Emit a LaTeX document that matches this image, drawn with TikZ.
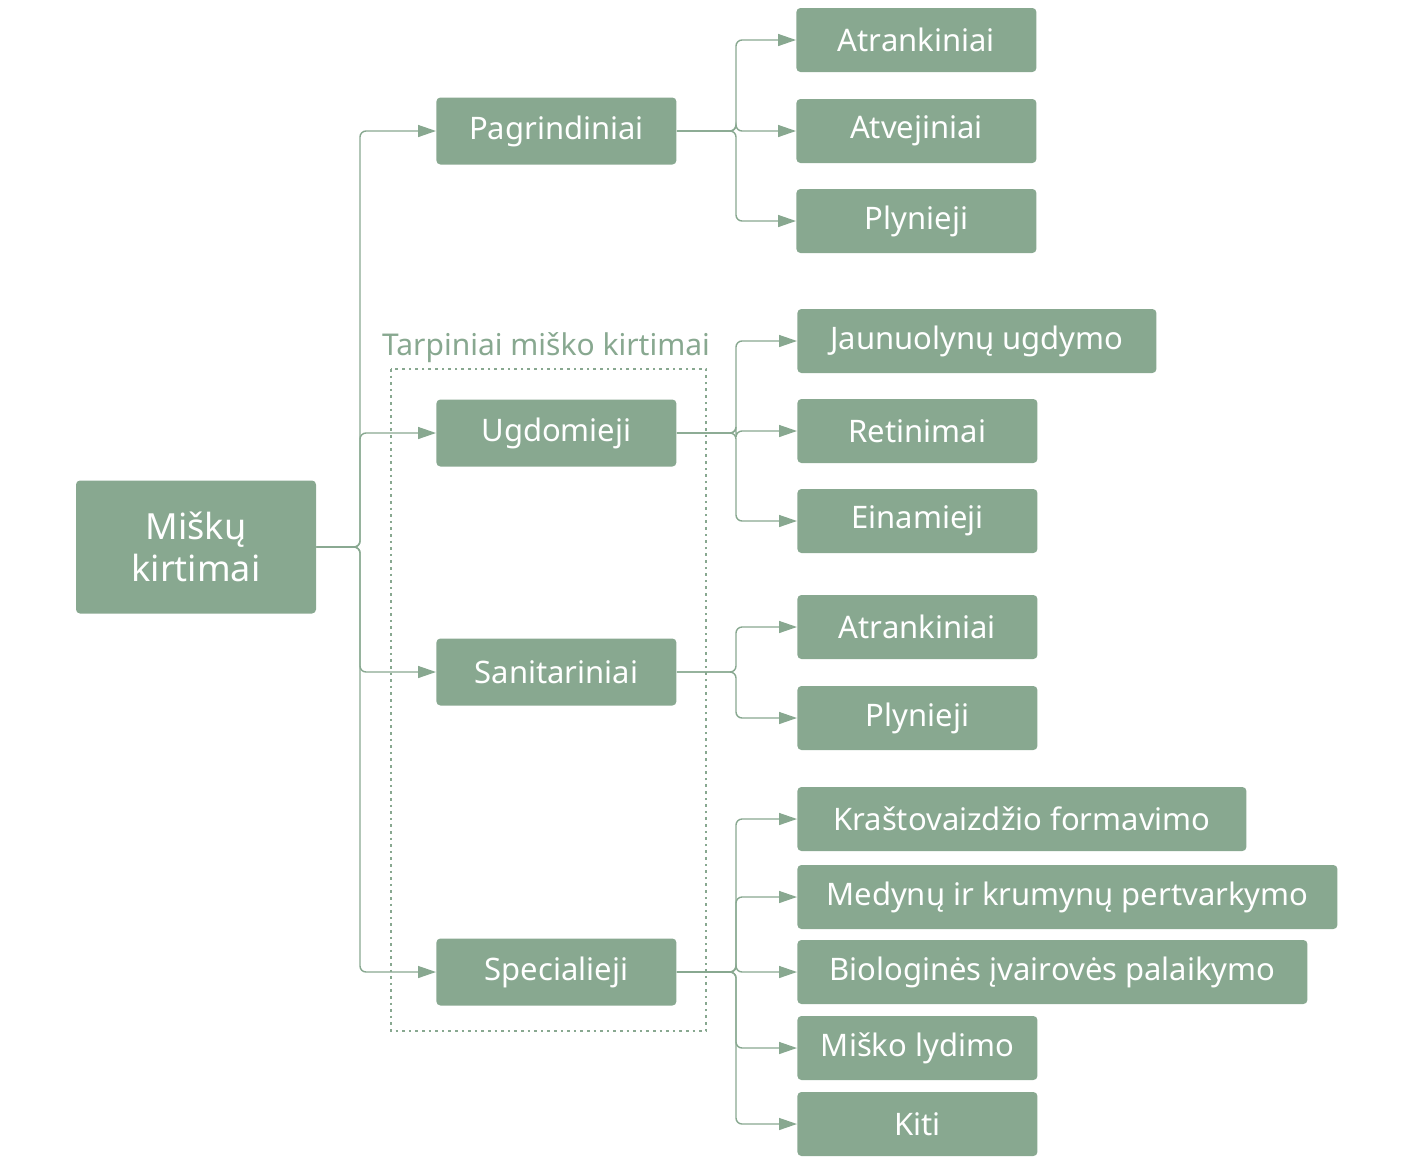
\documentclass[tikz,border=0pt]{standalone}
\usepackage{fontspec}
\setmainfont{Noto Sans}
\usetikzlibrary{arrows.meta}
\definecolor{g}{HTML}{88A890}
\begin{document}
\begin{tikzpicture}[x=0.5pt,y=-0.5pt,
 box/.style={fill=g,rounded corners=2pt,text=white,font=\fontsize{15.5}{18}\selectfont,inner sep=0pt,anchor=west},
 ln/.style={draw=g,line width=0.7pt,-{Triangle[length=9pt,width=6pt]},rounded corners=3pt}]
\useasboundingbox (0,0) rectangle (1414,1163);
\node[box,anchor=center,minimum width=120pt,minimum height=66.5pt,align=center,font=\fontsize{18}{21}\selectfont] (root) at (196,547) {Miškų\\kirtimai};
\foreach \n/\y/\t in {p/131/Pagrindiniai,u/433/Ugdomieji,s/672/Sanitariniai,sp/972/Specialieji}
 \node[box,minimum width=120pt,minimum height=33.5pt] (\n) at (436,\y) {\t};
\foreach \n/\y/\w/\t in {a1/40/120/Atrankiniai,a2/131/120/Atvejiniai,a3/221/120/Plynieji}
 \node[box,minimum width=\w pt,minimum height=32pt] (\n) at (796,\y) {\t};
\foreach \n/\y/\w/\t in {b1/341/179.5/Jaunuolynų ugdymo,b2/431/120/Retinimai,b3/521/120/Einamieji,c1/627/120/Atrankiniai,c2/718/120/Plynieji,d1/819/224.5/Kraštovaizdžio formavimo,d2/897/270/Medynų ir krumynų pertvarkymo,d3/972/255/Biologinės įvairovės palaikymo,d4/1048/120/Miško lydimo,d5/1124/120/Kiti}
 \node[box,minimum width=\w pt,minimum height=32pt] (\n) at (797,\y) {\t};
\draw[g,line width=1.3pt,dotted] (391,369) rectangle (706,1031);
\node[text=g,font=\fontsize{15}{18}\selectfont] (lab) at (546,348) {Tarpiniai miško kirtimai};
\foreach \c in {p,u,s,sp} \draw[ln] (root.east) -| (360,0 |- \c.west) -- (\c.west);
\foreach \c in {a1,a2,a3} \draw[ln] (p.east) -| (736,0 |- \c.west) -- (\c.west);
\foreach \c in {b1,b2,b3} \draw[ln] (u.east) -| (736,0 |- \c.west) -- (\c.west);
\foreach \c in {c1,c2} \draw[ln] (s.east) -| (736,0 |- \c.west) -- (\c.west);
\foreach \c in {d1,d2,d3,d4,d5} \draw[ln] (sp.east) -| (736,0 |- \c.west) -- (\c.west);
\end{tikzpicture}
\end{document}
